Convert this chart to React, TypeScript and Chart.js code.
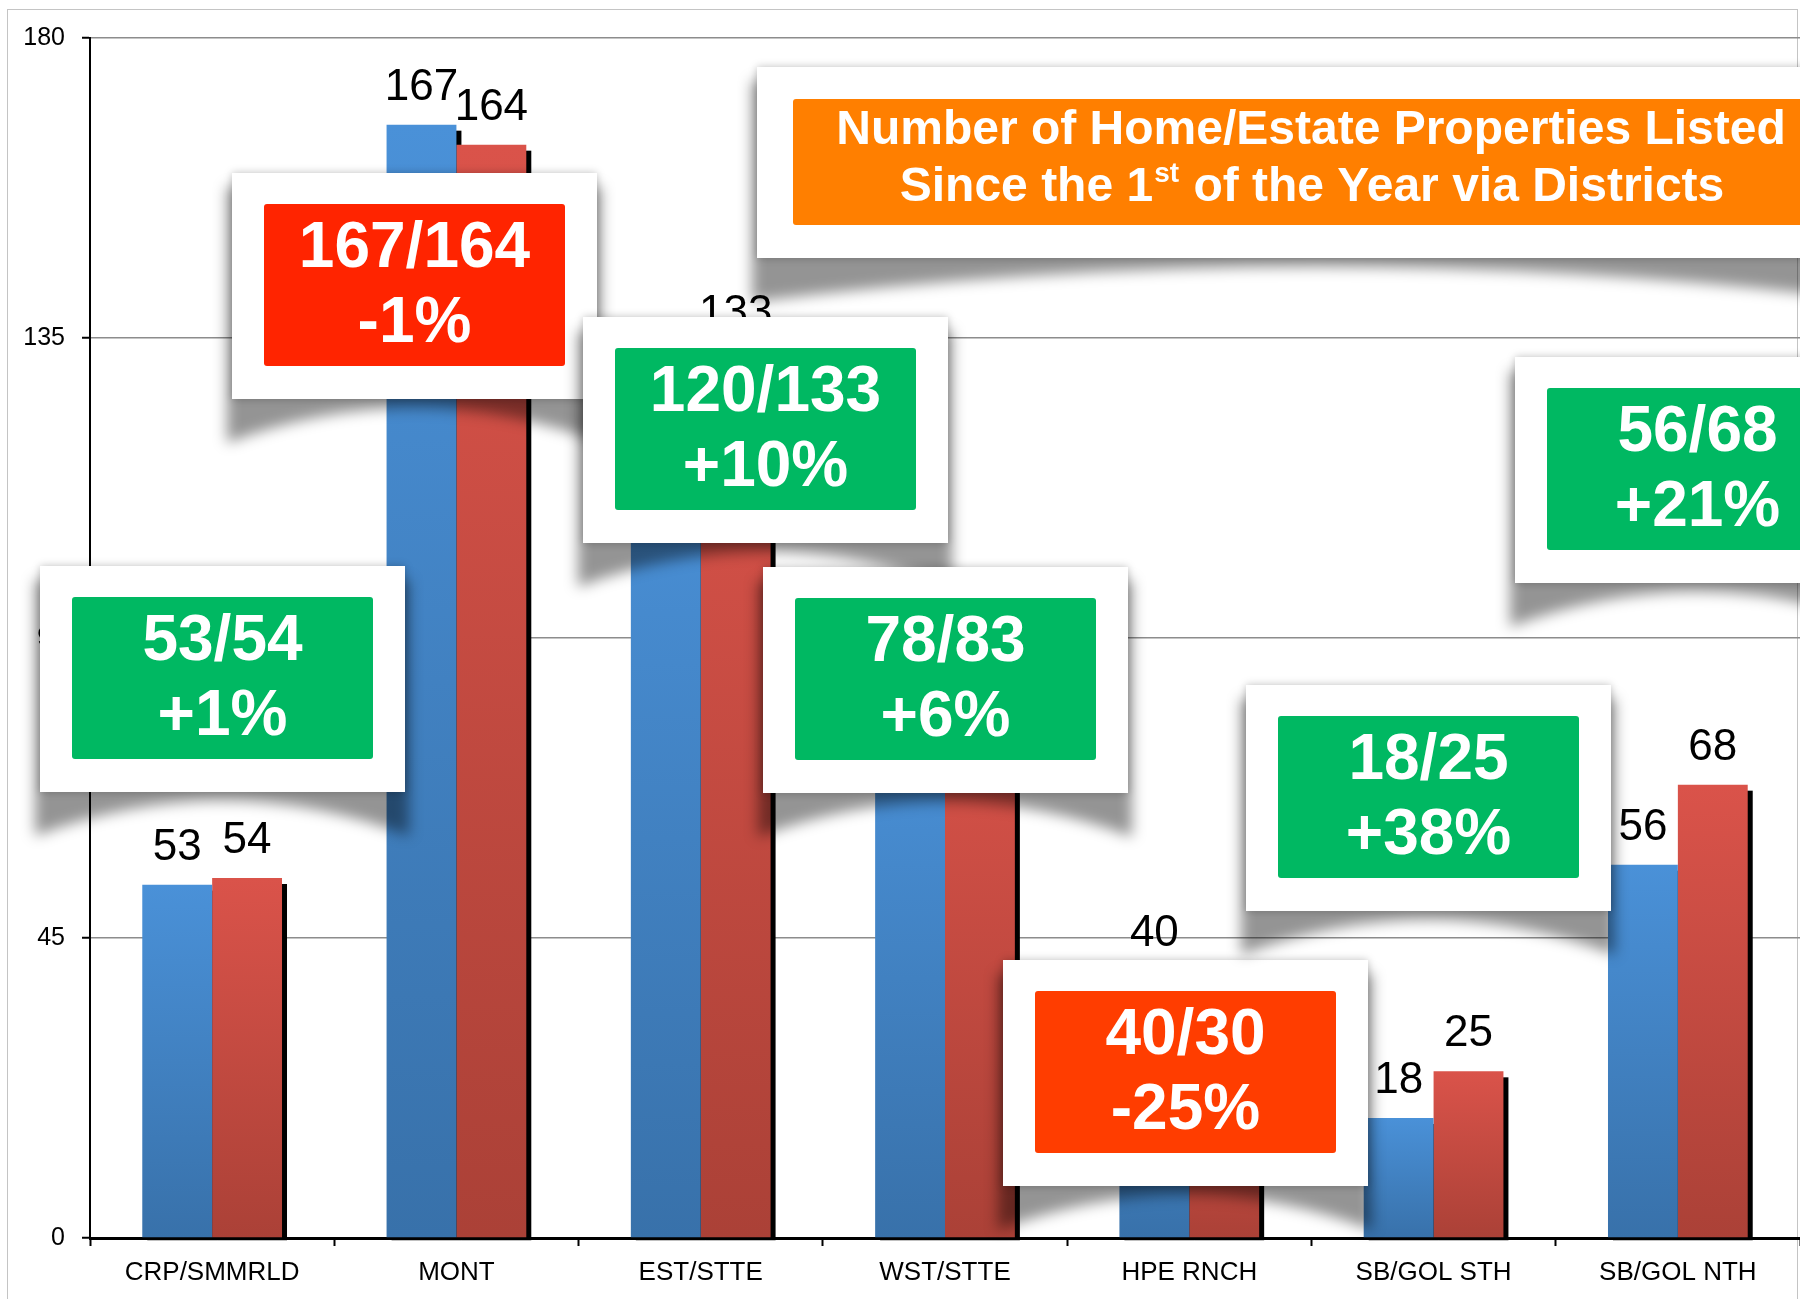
import React, { useEffect, useRef } from "react";
import { Chart, registerables } from "chart.js";

Chart.register(...registerables);

// ---------------- data ----------------
const CATEGORIES = ["CRP/SMMRLD", "MONT", "EST/STTE", "WST/STTE", "HPE RNCH", "SB/GOL STH", "SB/GOL NTH"];
const LAST_YEAR = [53, 167, 120, 78, 40, 18, 56];
const THIS_YEAR = [54, 164, 133, 83, 30, 25, 68];
const Y_TICKS = [0, 45, 90, 135, 180];
const TITLE_LINE_1 = "Number of Home/Estate Properties Listed";
const TITLE_LINE_2 = ["Since the 1", "st", " of the Year via Districts"];

// ---------------- layout / style ----------------
const FONT = "'Liberation Sans', Arial, Helvetica, sans-serif";
const W = 1800;
const H = 1299;
// outer callout box (left, top) in canvas pixels, one per category
const CALLOUT_POS: [number, number][] = [
  [40, 566],
  [232, 173],
  [583, 317],
  [763, 567],
  [1003, 960],
  [1246, 685],
  [1515, 357],
];
const CALLOUT_FILL = ["#00B862", "#FF2400", "#00B862", "#00B862", "#FF3D00", "#00B862", "#00B862"];
const BOX_W = 365;
const BOX_H = 226;
const INNER_DX = 32;
const INNER_DY = 31;
const INNER_W = 301;
const INNER_H = 162;

function curvedShadow(ctx: CanvasRenderingContext2D, x: number, y: number, w: number, h: number, depth: number) {
  ctx.save();
  ctx.filter = "blur(7px)";
  ctx.fillStyle = "rgba(0,0,0,0.42)";
  ctx.beginPath();
  ctx.moveTo(x - 5, y + 14);
  ctx.lineTo(x + w + 4, y + 14);
  ctx.lineTo(x + w + 4, y + h + depth);
  ctx.quadraticCurveTo(x + w / 2, y + h - depth * 0.6, x - 5, y + h + depth);
  ctx.closePath();
  ctx.fill();
  ctx.restore();
}

function whiteBox(ctx: CanvasRenderingContext2D, x: number, y: number, w: number, h: number) {
  curvedShadow(ctx, x, y, w, h, 44);
  ctx.save();
  ctx.shadowColor = "rgba(0,0,0,0.25)";
  ctx.shadowBlur = 8;
  ctx.fillStyle = "#ffffff";
  ctx.fillRect(x, y, w, h);
  ctx.restore();
}

function innerBox(ctx: CanvasRenderingContext2D, x: number, y: number, w: number, h: number, fill: string) {
  ctx.save();
  ctx.fillStyle = fill;
  ctx.beginPath();
  const r = 3;
  ctx.moveTo(x + r, y);
  ctx.lineTo(x + w - r, y);
  ctx.quadraticCurveTo(x + w, y, x + w, y + r);
  ctx.lineTo(x + w, y + h - r);
  ctx.quadraticCurveTo(x + w, y + h, x + w - r, y + h);
  ctx.lineTo(x + r, y + h);
  ctx.quadraticCurveTo(x, y + h, x, y + h - r);
  ctx.lineTo(x, y + r);
  ctx.quadraticCurveTo(x, y, x + r, y);
  ctx.closePath();
  ctx.fill();
  ctx.restore();
}

function barGradient(top: string, bottom: string) {
  return (c: any) => {
    const chart = c.chart;
    if (c.type !== "data" || !chart.chartArea || !chart.scales || !chart.scales.y) return top;
    const ys = chart.scales.y;
    const yt = ys.getPixelForValue(c.raw);
    const yb = ys.getPixelForValue(0);
    if (!isFinite(yt) || !isFinite(yb) || yt === yb) return top;
    const g = chart.ctx.createLinearGradient(0, yt, 0, yb);
    g.addColorStop(0, top);
    g.addColorStop(1, bottom);
    return g;
  };
}

const backgroundPlugin = {
  id: "bgFrame",
  beforeDraw(chart: any) {
    const ctx = chart.ctx as CanvasRenderingContext2D;
    ctx.save();
    ctx.fillStyle = "#ffffff";
    ctx.fillRect(0, 0, chart.width, chart.height);
    ctx.strokeStyle = "#c4c4c4";
    ctx.lineWidth = 1;
    ctx.strokeRect(7.5, 9.5, 1790, 1400);
    ctx.restore();
  },
};

const barShadowPlugin = {
  id: "barShadow",
  beforeDatasetsDraw(chart: any) {
    const ctx = chart.ctx as CanvasRenderingContext2D;
    ctx.save();
    ctx.fillStyle = "#000000";
    chart.data.datasets.forEach((_: any, di: number) => {
      const meta = chart.getDatasetMeta(di);
      meta.data.forEach((el: any) => {
        const left = el.x - el.width / 2 + 5;
        const top = el.y + 6;
        ctx.fillRect(left, top, el.width, el.base - el.y - 3);
      });
    });
    ctx.restore();
  },
};

const valueLabelPlugin = {
  id: "valueLabels",
  afterDatasetsDraw(chart: any) {
    const ctx = chart.ctx as CanvasRenderingContext2D;
    ctx.save();
    ctx.fillStyle = "#000000";
    ctx.font = `44px ${FONT}`;
    ctx.textAlign = "center";
    ctx.textBaseline = "alphabetic";
    chart.data.datasets.forEach((ds: any, di: number) => {
      const meta = chart.getDatasetMeta(di);
      meta.data.forEach((el: any, i: number) => {
        ctx.fillText(String(ds.data[i]), el.x, el.y - 25);
      });
    });
    ctx.restore();
  },
};

const calloutPlugin = {
  id: "callouts",
  afterDraw(chart: any) {
    const ctx = chart.ctx as CanvasRenderingContext2D;
    // title box
    whiteBox(ctx, 757, 67, 1120, 191);
    innerBox(ctx, 793, 99, 1100, 126, "#FF7F00");
    ctx.save();
    ctx.fillStyle = "#ffffff";
    ctx.textBaseline = "middle";
    ctx.textAlign = "center";
    ctx.font = `bold 48px ${FONT}`;
    ctx.fillText(TITLE_LINE_1, 1311, 131);
    // second line with superscript
    ctx.textAlign = "left";
    const big = `bold 48px ${FONT}`;
    const small = `bold 28px ${FONT}`;
    ctx.font = big;
    const w1 = ctx.measureText(TITLE_LINE_2[0]).width;
    const w3 = ctx.measureText(TITLE_LINE_2[2]).width;
    ctx.font = small;
    const w2 = ctx.measureText(TITLE_LINE_2[1]).width;
    let x = 1311 - (w1 + w2 + w3) / 2;
    ctx.font = big;
    ctx.fillText(TITLE_LINE_2[0], x, 188);
    x += w1;
    ctx.font = small;
    ctx.fillText(TITLE_LINE_2[1], x + 1, 174);
    x += w2 + 2;
    ctx.font = big;
    ctx.fillText(TITLE_LINE_2[2], x, 188);
    ctx.restore();

    // callouts
    CATEGORIES.forEach((_, i) => {
      const [bx, by] = CALLOUT_POS[i];
      whiteBox(ctx, bx, by, BOX_W, BOX_H);
      const ix = bx + INNER_DX;
      const iy = by + INNER_DY;
      innerBox(ctx, ix, iy, INNER_W, INNER_H, CALLOUT_FILL[i]);
      const a = LAST_YEAR[i];
      const b = THIS_YEAR[i];
      const pct = Math.trunc(((b - a) / a) * 100);
      const line1 = `${a}/${b}`;
      const line2 = `${pct > 0 ? "+" : ""}${pct}%`;
      ctx.save();
      ctx.fillStyle = "#ffffff";
      ctx.font = `bold 64px ${FONT}`;
      ctx.textAlign = "center";
      ctx.textBaseline = "middle";
      ctx.fillText(line1, ix + INNER_W / 2, iy + 45);
      ctx.fillText(line2, ix + INNER_W / 2, iy + 120);
      ctx.restore();
    });
  },
};

export default function App() {
  const ref = useRef<HTMLCanvasElement | null>(null);

  useEffect(() => {
    document.body.style.margin = "0";
    document.body.style.overflow = "hidden";
    const canvas = ref.current;
    if (!canvas) return;
    const chart = new Chart(canvas, {
      type: "bar",
      data: {
        labels: CATEGORIES,
        datasets: [
          {
            label: "Last year",
            data: LAST_YEAR,
            backgroundColor: barGradient("#4A91D8", "#3871AA"),
            borderWidth: 0,
            categoryPercentage: 0.572,
            barPercentage: 1.0,
          },
          {
            label: "This year",
            data: THIS_YEAR,
            backgroundColor: barGradient("#DA534A", "#AB4137"),
            borderWidth: 0,
            categoryPercentage: 0.572,
            barPercentage: 1.0,
          },
        ],
      },
      options: {
        responsive: false,
        animation: false,
        devicePixelRatio: 1,
        layout: { padding: { top: 38, left: 0, right: 0, bottom: 0 } },
        plugins: {
          legend: { display: false },
          tooltip: { enabled: false },
          title: { display: false },
        },
        scales: {
          x: {
            grid: {
              display: true,
              drawOnChartArea: false,
              drawTicks: true,
              tickLength: 8,
              tickColor: "#000000",
              tickWidth: 2,
              offset: true,
            },
            border: { display: true, color: "#000000", width: 3 },
            ticks: {
              color: "#000000",
              font: { family: FONT, size: 26 },
              padding: 11,
              maxRotation: 0,
              autoSkip: false,
            },
            afterFit: (s: any) => {
              s.height = 61;
            },
          },
          y: {
            min: 0,
            max: 180,
            afterBuildTicks: (s: any) => {
              s.ticks = Y_TICKS.map((v) => ({ value: v }));
            },
            ticks: {
              color: "#000000",
              font: { family: FONT, size: 25 },
              padding: 17,
            },
            grid: {
              color: "#8c8c8c",
              lineWidth: 1.5,
              tickColor: "#000000",
              tickWidth: 2,
              tickLength: 8,
            },
            border: { color: "#000000", width: 2 },
            afterFit: (s: any) => {
              s.width = 90;
            },
          },
        },
      },
      plugins: [backgroundPlugin, barShadowPlugin, valueLabelPlugin, calloutPlugin],
    } as any);
    return () => chart.destroy();
  }, []);

  return (
    <div style={{ position: "absolute", left: 0, top: 0, width: W, height: H, background: "#fff" }}>
      <canvas ref={ref} width={W} height={H} style={{ display: "block", width: W, height: H }} />
    </div>
  );
}
